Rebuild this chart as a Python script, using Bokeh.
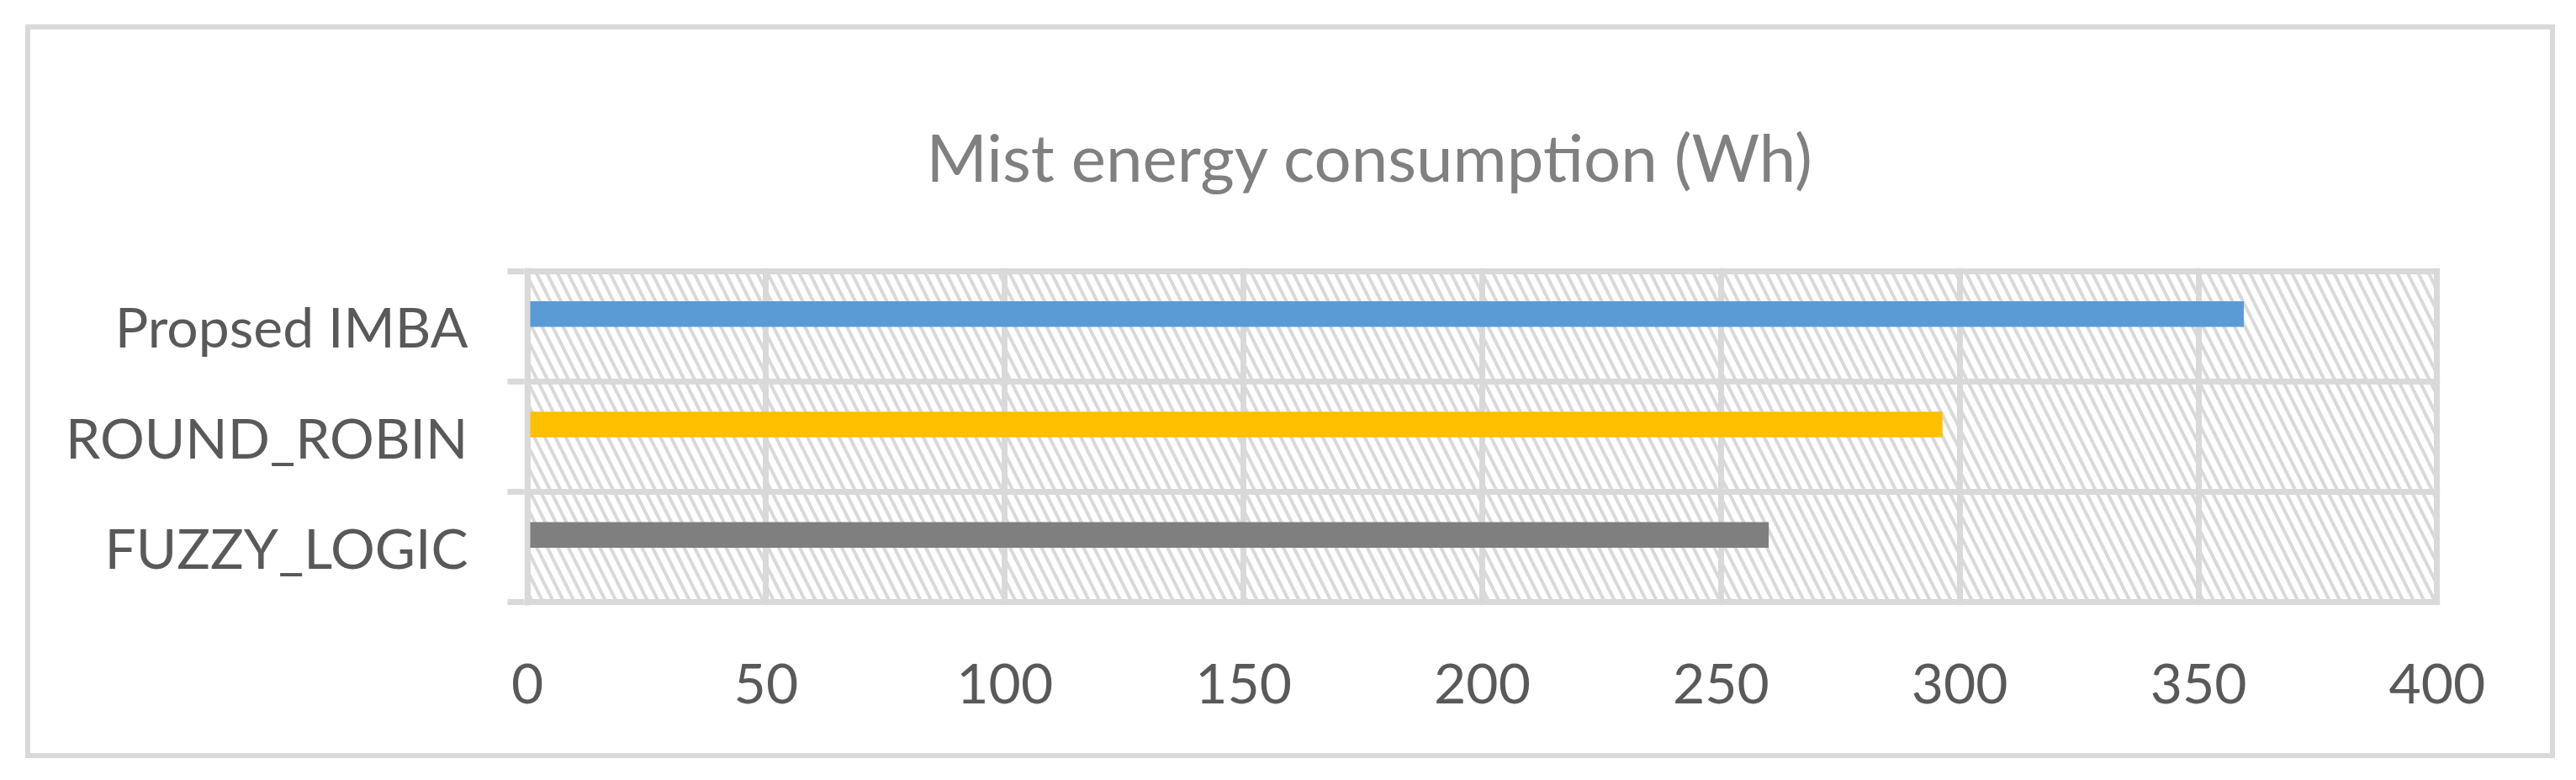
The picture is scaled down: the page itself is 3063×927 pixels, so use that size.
from bokeh.plotting import figure
from bokeh.models import FixedTicker, Range1d, Span, ColumnDataSource
from bokeh.embed import file_html
from bokeh.resources import INLINE

# ---- data ----
categories = ["FUZZY_LOGIC", "ROUND_ROBIN", "Propsed IMBA"]   # bottom -> top
values = [260.0, 296.4, 359.5]
colors = ["#7F7F7F", "#FFC000", "#5B9BD5"]
x_ticks = [0, 50, 100, 150, 200, 250, 300, 350, 400]
title_text = "Mist energy consumption (Wh)"

# ---- layout constants ----
W, H = 2996, 860
GRID_COLOR = "#D9D9D9"
LABEL_COLOR = "#595959"
FONT = "Lato"

x_min, x_max = x_ticks[0], x_ticks[-1]
n = len(categories)
xpad = 0.62
ypad = 0.0275

p = figure(width=W, height=H, output_backend="svg", toolbar_location=None,
           x_range=Range1d(x_min - xpad, x_max + xpad),
           y_range=Range1d(-ypad, n + ypad),
           min_border_left=587, min_border_right=143,
           min_border_top=283, min_border_bottom=188)
p.outline_line_color = None
p.background_fill_color = "white"
p.border_fill_color = "white"
p.margin = (29, 0, 0, 30)
p.styles = {"border": "6px solid #D9D9D9", "box-sizing": "content-box"}

# hatched plot-area background
p.quad(left=[x_min], right=[x_max], bottom=[0], top=[n],
       fill_color="white", line_color=None,
       hatch_pattern="\\", hatch_color=GRID_COLOR, hatch_scale=25, hatch_weight=4,
       level="image")

# bars
src = ColumnDataSource(dict(
    y=[i + 0.5 + 0.11 for i in range(n)],
    right=values,
    color=colors,
))
p.hbar(y="y", left=0, right="right", height=0.232, fill_color="color",
       line_color=None, source=src)

# value axis line on top of bars
p.add_layout(Span(location=0, dimension="height", line_color=GRID_COLOR, line_width=7))

# grids
p.xgrid.ticker = FixedTicker(ticks=x_ticks)
p.xgrid.grid_line_color = GRID_COLOR
p.xgrid.grid_line_width = 7
p.ygrid.ticker = FixedTicker(ticks=list(range(n + 1)))
p.ygrid.grid_line_color = GRID_COLOR
p.ygrid.grid_line_width = 7

# x axis
p.xaxis.ticker = FixedTicker(ticks=x_ticks)
p.xaxis.axis_line_color = None
p.xaxis.major_tick_line_color = None
p.xaxis.major_tick_out = 0
p.xaxis.major_tick_in = 0
p.xaxis.minor_tick_line_color = None
p.xaxis.major_label_standoff = 69
p.xaxis.major_label_text_font = FONT
p.xaxis.major_label_text_font_size = "66px"
p.xaxis.major_label_text_color = LABEL_COLOR

# y axis (categories)
p.yaxis.ticker = FixedTicker(ticks=[i + 0.5 for i in range(n)],
                             minor_ticks=list(range(n + 1)))
p.yaxis.major_label_overrides = {i + 0.5: c for i, c in enumerate(categories)}
p.yaxis.axis_line_color = None
p.yaxis.major_tick_line_color = None
p.yaxis.major_tick_out = 0
p.yaxis.major_tick_in = 0
p.yaxis.minor_tick_line_color = GRID_COLOR
p.yaxis.minor_tick_line_width = 7
p.yaxis.minor_tick_out = 20
p.yaxis.minor_tick_in = 0
p.yaxis.major_label_standoff = 47
p.yaxis.major_label_text_font = FONT
p.yaxis.major_label_text_font_size = "66px"
p.yaxis.major_label_text_color = LABEL_COLOR

# title
p.title.text = title_text
p.title.text_font = FONT
p.title.text_font_size = "78px"
p.title.text_font_style = "normal"
p.title.text_color = "#808080"
p.title.align = "left"
p.title.offset = 478
p.title.standoff = 172

open("out.html", "w").write(file_html(p, INLINE))
